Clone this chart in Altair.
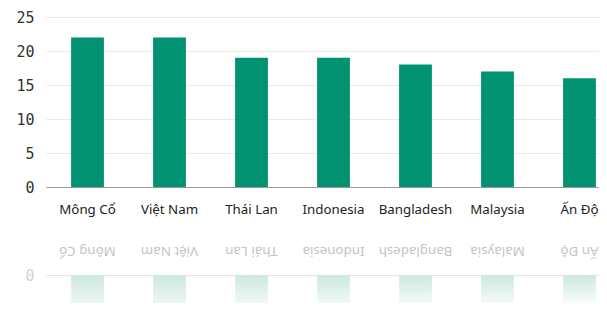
import altair as alt
import pandas as pd

countries = ["Mông Cổ", "Việt Nam", "Thái Lan", "Indonesia", "Bangladesh", "Malaysia", "Ấn Độ"]
values = [22, 22, 19, 19, 18, 17, 16]
y_ticks = [0, 5, 10, 15, 20, 25]

GREEN = "#019271"
df = pd.DataFrame({"country": countries, "value": values})

xscale = alt.Scale(paddingInner=0.6, paddingOuter=0.172, align=0.89)

main = alt.Chart(df).mark_bar(color=GREEN).encode(
    x=alt.X("country:N", sort=countries, scale=xscale,
            axis=alt.Axis(title=None, labelAngle=0, labelFont="Noto Sans", labelFontSize=13.3,
                          labelColor="#222222", labelPadding=15, ticks=False,
                          domainColor="#9a9a9a", grid=False)),
    y=alt.Y("value:Q", scale=alt.Scale(domain=[0, 25], nice=False),
            axis=alt.Axis(title=None, values=y_ticks, labelFont="DejaVu Sans Mono", labelFontSize=15,
                          labelColor="#333333", labelPadding=12, ticks=False, domain=False,
                          gridColor="#e9e9e9")),
).properties(width=553, height=170)

refl = alt.Chart(df).mark_bar(
    clip=True,
    color=alt.Gradient(gradient="linear",
                       stops=[alt.GradientStop(color="#cce8de", offset=0),
                              alt.GradientStop(color="#ffffff", offset=0.3)],
                       x1=0, x2=0, y1=0, y2=1),
).encode(
    x=alt.X("country:N", sort=countries, scale=xscale,
            axis=alt.Axis(orient="top", title=None, labelAngle=180, labelFont="Noto Sans", labelFontSize=13.3,
                          labelColor="#c4c4c4", labelPadding=18, ticks=False,
                          domainColor="#e6e6e6", grid=False)),
    y=alt.Y("value:Q", scale=alt.Scale(domain=[0, 28 / 6.8], reverse=True, nice=False),
            axis=alt.Axis(title=None, values=[0], labelFont="DejaVu Sans Mono", labelFontSize=15,
                          labelColor="#d4d4d4", labelPadding=12, ticks=False, domain=False,
                          gridColor="#f4f4f4")),
).properties(width=553, height=28)

chart = alt.vconcat(main, refl, spacing=27).resolve_scale(
    x="independent", y="independent"
).properties(
    padding={"left": 7, "top": 2, "right": 0, "bottom": 0}
).configure_view(stroke=None)

chart.save("out.html", embed_options={"renderer": "svg", "actions": False})
